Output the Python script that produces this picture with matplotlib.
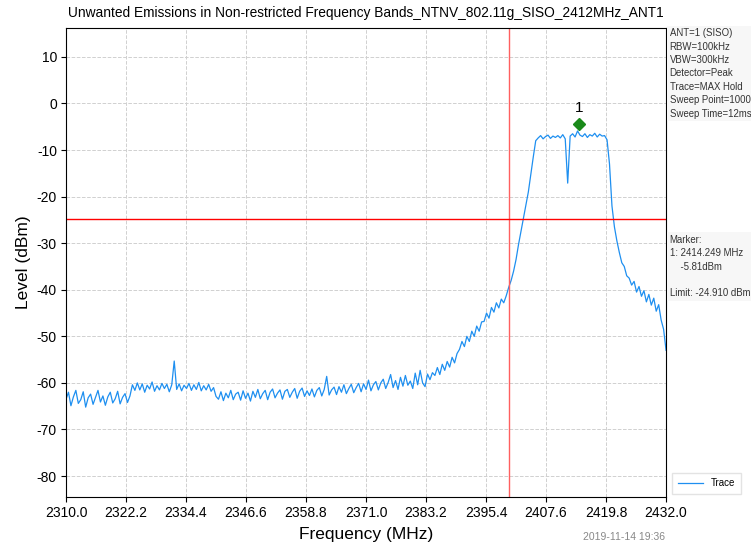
import numpy as np
import matplotlib
matplotlib.use('Agg')
import matplotlib.pyplot as plt
import matplotlib.transforms as mtransforms

plt.rcParams['font.family'] = ['Liberation Sans', 'DejaVu Sans']
plt.rcParams['axes.unicode_minus'] = False

f_start, f_stop, f_step = 2310.0, 2432.0, 0.5
trace_dbm = [
    -63.5, -62.0, -64.9, -63.0, -61.6, -64.4, -63.6, -61.9, -65.2, -63.2,
    -62.4, -64.6, -63.1, -61.6, -64.1, -62.8, -64.8, -63.0, -62.0, -64.3,
    -63.4, -61.8, -64.5, -63.1, -62.3, -64.2, -62.8, -60.4, -61.6, -60.0,
    -61.5, -60.2, -62.0, -60.5, -61.3, -59.8, -61.8, -60.6, -61.5, -60.1,
    -61.2, -60.3, -61.9, -60.4, -55.3, -61.4, -60.2, -61.7, -60.5, -61.2,
    -60.1, -61.6, -60.4, -61.4, -59.9, -61.7, -60.6, -61.5, -60.3, -61.8,
    -61.0, -62.9, -63.5, -61.9, -63.8, -62.2, -63.2, -61.6, -63.6, -62.4,
    -62.0, -63.7, -61.7, -63.3, -62.2, -63.9, -61.8, -63.1, -61.4, -63.4,
    -62.3, -61.6, -63.6, -62.0, -61.3, -63.2, -62.2, -61.5, -63.5, -61.8,
    -61.4, -63.1, -62.0, -61.2, -63.3, -61.8, -61.1, -62.9, -61.7, -62.7,
    -61.3, -63.0, -61.6, -61.0, -62.8, -61.4, -58.6, -62.6, -61.5, -60.9,
    -62.5, -60.8, -62.0, -60.4, -62.3, -61.2, -60.3, -62.1, -61.0, -60.1,
    -61.9, -60.2, -61.4, -59.4, -61.7, -60.4, -59.7, -61.5, -60.0, -59.2,
    -61.2, -59.9, -58.2, -61.0, -59.5, -61.4, -58.8, -60.7, -58.4, -60.5,
    -59.6, -61.2, -57.9, -60.4, -57.3, -60.0, -60.8, -58.1, -59.3, -57.8,
    -58.4, -56.7, -58.2, -56.0, -57.3, -55.4, -56.6, -54.5, -55.7, -53.7,
    -52.8, -51.1, -52.2, -50.0, -51.1, -48.9, -50.0, -47.8, -48.9, -46.9,
    -46.8, -45.0, -46.1, -43.8, -44.8, -42.8, -43.9, -42.0, -42.8, -41.3,
    -39.5, -38.0, -36.0, -33.5, -30.3, -27.5, -24.6, -22.0, -19.0, -15.2,
    -11.5, -8.0, -7.4, -6.9, -7.6, -7.1, -6.8, -7.5, -7.0, -7.3,
    -6.9, -7.4, -6.7, -7.6, -17.1, -7.0, -6.5, -7.2, -5.9, -6.8,
    -7.1, -6.5, -7.3, -6.7, -7.0, -6.4, -7.2, -6.6, -7.0, -6.9,
    -7.8, -13.0, -22.0, -26.5, -29.5, -32.0, -34.2, -35.0, -37.0, -37.5,
    -39.0, -38.2, -40.5, -39.3, -41.4, -40.2, -42.6, -41.0, -43.3, -41.8,
    -44.6, -43.2, -46.5, -48.5, -53.0,
]

x_ticks = [2310.0, 2322.2, 2334.4, 2346.6, 2358.8, 2371.0, 2383.2, 2395.4,
           2407.6, 2419.8, 2432.0]
y_ticks = [-80, -70, -60, -50, -40, -30, -20, -10, 0, 10]

band_edge_mhz = 2400.0
limit_dbm = -24.910
marker_freq = 2414.249
marker_level = -5.81

setup_lines = ['ANT=1 (SISO)', 'RBW=100kHz', 'VBW=300kHz', 'Detector=Peak',
               'Trace=MAX Hold', 'Sweep Point=1000', 'Sweep Time=12ms']

freqs = f_start + f_step * np.arange(len(trace_dbm))

fig = plt.figure(figsize=(7.51, 5.46), dpi=100)
ax = fig.add_axes([0.0879, 0.0897, 0.799, 0.859])

ax.plot(freqs, trace_dbm, color='#1e8ff0', linewidth=0.9, label='Trace')
ax.axvline(band_edge_mhz, color='#ff6060', linewidth=1.0)
ax.axhline(limit_dbm, color='red', linewidth=1.0)

# marker diamond sits just above the peak
off = mtransforms.offset_copy(ax.transData, fig=fig, x=0, y=5, units='points')
ax.plot([marker_freq], [marker_level], marker='D', color='#1a8a1a',
        markersize=6, transform=off, linestyle='none')
off2 = mtransforms.offset_copy(ax.transData, fig=fig, x=0, y=11, units='points')
ax.text(marker_freq, marker_level, '1', transform=off2, ha='center',
        va='bottom', fontsize=11)

ax.set_xlim(f_start, f_stop)
ax.set_ylim(-84.5, 16.2)
ax.set_xticks(x_ticks)
ax.set_xticklabels([f'{t:.1f}' for t in x_ticks])
ax.set_yticks(y_ticks)
ax.tick_params(labelsize=10, pad=3)
ax.grid(True, color='#d0d0d0', linestyle='--', linewidth=0.7)
ax.set_axisbelow(True)

ax.set_title('Unwanted Emissions in Non-restricted Frequency Bands_NTNV_802.11g_SISO_2412MHz_ANT1',
             fontsize=9.9, pad=8)
ax.set_xlabel('Frequency (MHz)', fontsize=12.5, labelpad=5)
ax.set_ylabel('Level (dBm)', fontsize=12.5)

box = dict(boxstyle='square,pad=0.25', facecolor='#f7f7f7', edgecolor='none')
fig.text(0.8915, 0.948, '\n'.join(setup_lines), fontsize=6.9, va='top',
         ha='left', color='#333333', bbox=box, linespacing=1.42)
marker_text = f'Marker:\n1: {marker_freq:.3f} MHz\n    {marker_level:.2f}dBm\n\nLimit: {limit_dbm:.3f} dBm'
fig.text(0.8915, 0.570, marker_text, fontsize=6.9, va='top', ha='left',
         color='#333333', bbox=box, linespacing=1.42)

fig.legend(loc='lower left', bbox_to_anchor=(0.888, 0.086), fontsize=7,
           frameon=True, fancybox=False, edgecolor='#dddddd',
           handlelength=2.6, borderpad=0.6)

fig.text(0.886, 0.008, '2019-11-14 19:36', fontsize=7.5, color='#888888',
         ha='right', va='bottom')

plt.savefig('out.png', dpi=100)
plt.close()
